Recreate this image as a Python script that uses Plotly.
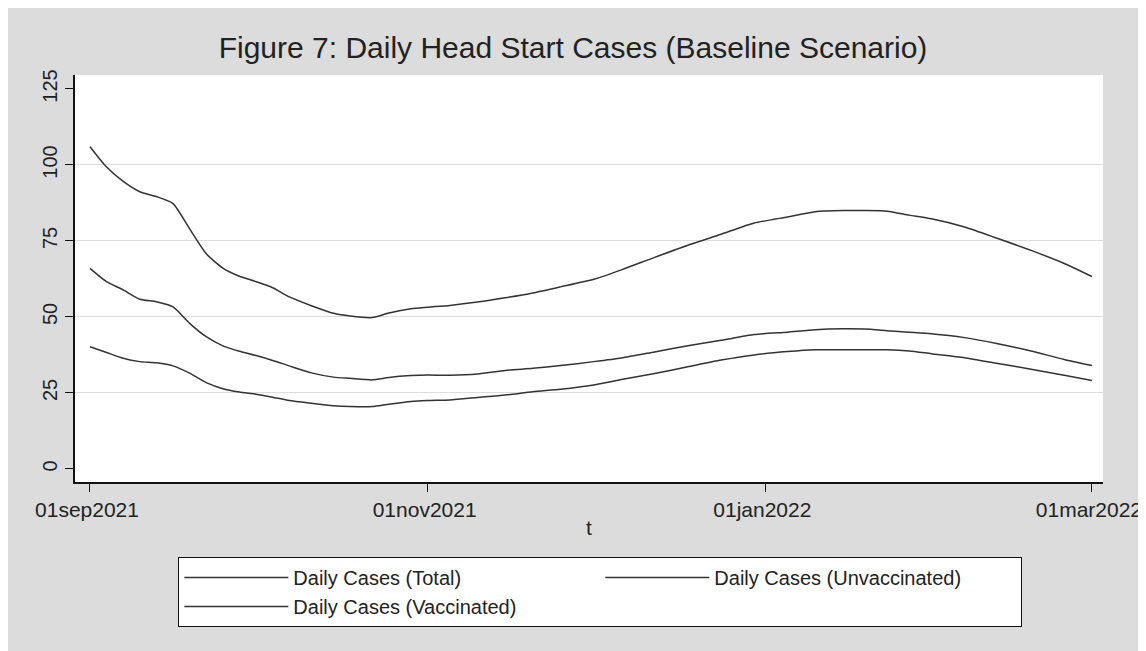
import pandas as pd
import plotly.graph_objects as go

days = [0, 3, 6, 9, 12, 15, 18, 21, 24, 27, 30, 33, 36, 40, 44, 47, 51, 54, 58, 61,
        65, 70, 75, 80, 85, 91, 96, 102, 108, 114, 120, 126, 131, 136, 140, 144, 148,
        152, 158, 164, 170, 176, 181]

total = [106.0, 99.3, 94.6, 91.2, 89.6, 87.3, 79.0, 70.8, 66.1, 63.4, 61.6, 59.6, 56.6,
         53.7, 51.2, 50.3, 49.8, 51.3, 52.7, 53.2, 53.8, 54.9, 56.3, 57.9, 59.9, 62.4,
         65.5, 69.6, 73.6, 77.2, 80.9, 82.9, 84.6, 85.0, 85.0, 84.8, 83.5, 82.3, 79.6,
         75.8, 71.9, 67.6, 63.3]

unvaccinated = [66.0, 61.6, 58.9, 55.8, 55.0, 53.3, 47.9, 43.5, 40.5, 38.7, 37.3, 35.7,
                33.9, 31.6, 30.2, 29.8, 29.3, 30.1, 30.7, 30.9, 30.8, 31.2, 32.4, 33.1,
                34.0, 35.3, 36.5, 38.5, 40.5, 42.3, 44.2, 45.0, 45.8, 46.1, 46.0, 45.5,
                45.0, 44.5, 43.2, 41.2, 38.8, 36.0, 34.0]

vaccinated = [40.2, 38.3, 36.4, 35.3, 34.9, 33.9, 31.5, 28.4, 26.4, 25.3, 24.6, 23.6,
              22.5, 21.6, 20.8, 20.5, 20.5, 21.3, 22.2, 22.5, 22.7, 23.5, 24.3, 25.4,
              26.2, 27.6, 29.4, 31.4, 33.6, 35.8, 37.5, 38.6, 39.2, 39.2, 39.2, 39.2,
              38.8, 37.9, 36.6, 34.7, 32.8, 30.8, 29.1]

x_ticks = ["2021-09-01", "2021-11-01", "2022-01-01", "2022-03-01"]
x_labels = ["01sep2021", "01nov2021", "01jan2022", "01mar2022"]
y_ticks = [0, 25, 50, 75, 100, 125]
y_grid = [25, 50, 75, 100]

dates = pd.Timestamp("2021-09-01") + pd.to_timedelta(days, unit="D")

font = "Liberation Sans, Arial, sans-serif"
line_col = "#333333"
y_range = [-4.3, 129.6]

fig = go.Figure()
series = [("Daily Cases (Total)", total),
          ("Daily Cases (Unvaccinated)", unvaccinated),
          ("Daily Cases (Vaccinated)", vaccinated)]
for name, vals in series:
    fig.add_trace(go.Scatter(x=dates, y=vals, mode="lines", name=name,
                             line=dict(color=line_col, width=1.5, shape="spline", smoothing=0.6)))

# invisible copy so the labelled overlay axis gets drawn
fig.add_trace(go.Scatter(x=dates, y=total, yaxis="y2", mode="lines", opacity=0,
                         showlegend=False, hoverinfo="skip", line=dict(width=0)))

# figure sized to fit inside the window next to the page's 8px body margin
fig.update_layout(
    width=1138, height=643,
    margin=dict(l=67, r=43, t=67, b=169),
    paper_bgcolor="#dcdcdc",
    plot_bgcolor="white",
    font=dict(family=font, color="#222222"),
    title=dict(text="Figure 7: Daily Head Start Cases (Baseline Scenario)",
               x=0.4965, xanchor="center", y=1 - 39 / 643, yanchor="middle",
               font=dict(size=30, color="#222222")),
    showlegend=True,
    legend=dict(orientation="h", x=0.1005, xanchor="left", y=-0.184, yanchor="top",
                bgcolor="white", bordercolor="#111111", borderwidth=1,
                font=dict(size=20, color="#222222"),
                itemwidth=104, entrywidth=302, entrywidthmode="pixels", tracegroupgap=0),
)

fig.update_xaxes(
    type="date", automargin=False,
    range=["2021-08-29 07:00", "2022-03-03"],
    tickvals=x_ticks, ticktext=x_labels,
    tickfont=dict(size=21), ticklabeloverflow="allow", ticklabelshift=-3,
    ticks="outside", ticklen=8, tickcolor="#111111",
    showline=True, linecolor="#111111", linewidth=1.5,
    showgrid=False, zeroline=False,
    title=dict(text="t", font=dict(size=21), standoff=0),
)

# main y axis carries only the grid lines (25..100)
fig.update_layout(yaxis=dict(
    range=y_range, tickvals=y_grid, showticklabels=False, ticks="", automargin=False,
    showgrid=True, gridcolor="#dddddd", gridwidth=1, zeroline=False, showline=False,
))
# overlay axis carries the labelled ticks and the axis line
fig.update_layout(yaxis2=dict(
    overlaying="y", side="left", anchor="x", range=y_range, automargin=False,
    tickvals=y_ticks, tickangle=-90, tickfont=dict(size=20),
    ticks="outside", ticklen=8, tickcolor="#111111",
    showline=True, linecolor="#111111", linewidth=1.5,
    showgrid=False, zeroline=False,
))

fig.write_html("out.html")
